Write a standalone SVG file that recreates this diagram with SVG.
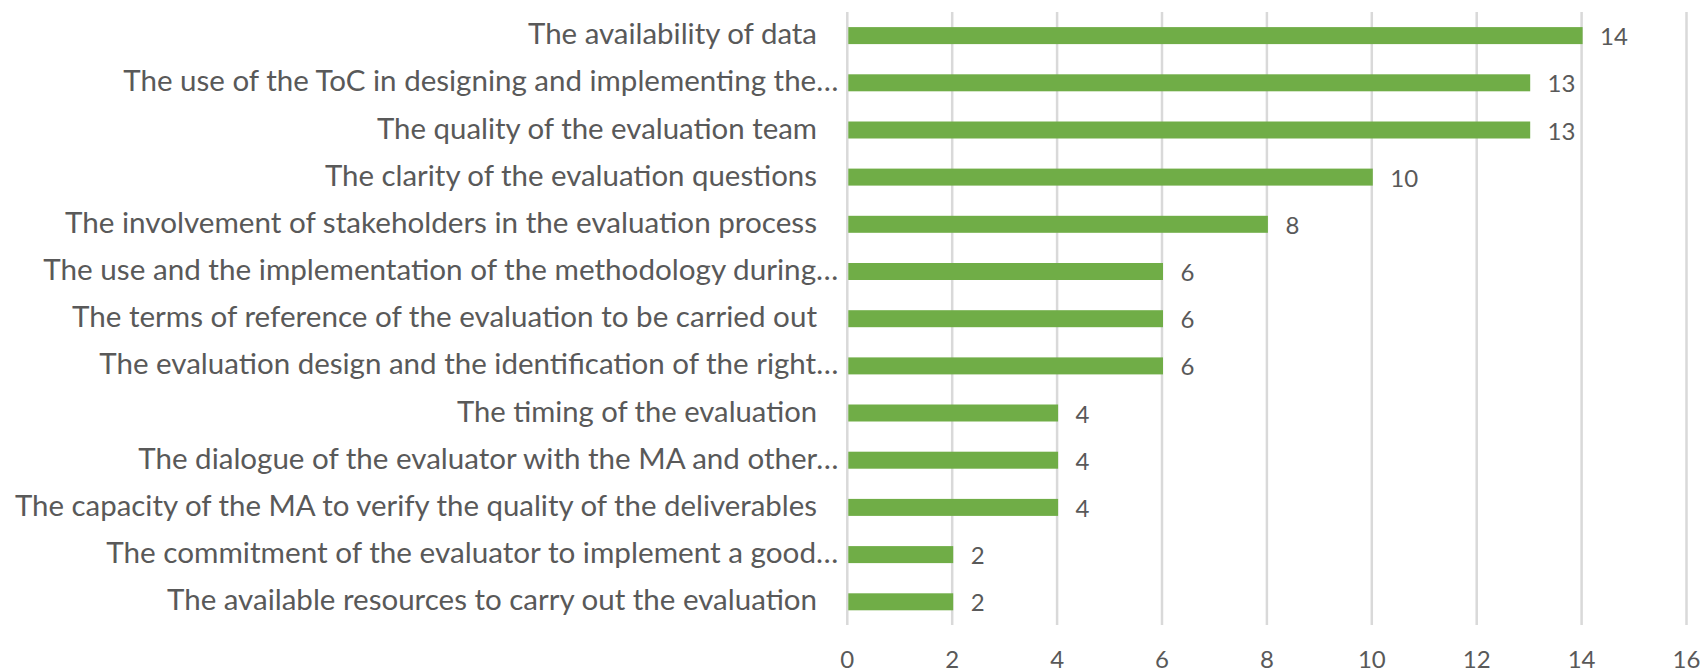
<svg xmlns="http://www.w3.org/2000/svg" width="1704" height="671" viewBox="0 0 1704 671">
<style>
.grid line{stroke:#D9D9D9;stroke-width:2.5}
.bar{fill:#70AD47}
.cat{font-family:Lato,"Open Sans","Liberation Sans",sans-serif;font-size:28px;fill:#595959;text-anchor:end}
.val{font-family:Lato,"Open Sans","Liberation Sans",sans-serif;font-size:24px;fill:#595959;text-anchor:start}
.ax{font-family:Lato,"Open Sans","Liberation Sans",sans-serif;font-size:24px;fill:#595959;text-anchor:middle}
</style>
<rect width="1704" height="671" fill="#ffffff"/>
<g id="gridlines" class="grid">
<line x1="847.3" y1="12" x2="847.3" y2="625"/>
<line x1="952.2" y1="12" x2="952.2" y2="625"/>
<line x1="1057.1" y1="12" x2="1057.1" y2="625"/>
<line x1="1162" y1="12" x2="1162" y2="625"/>
<line x1="1266.9" y1="12" x2="1266.9" y2="625"/>
<line x1="1371.8" y1="12" x2="1371.8" y2="625"/>
<line x1="1476.7" y1="12" x2="1476.7" y2="625"/>
<line x1="1581.6" y1="12" x2="1581.6" y2="625"/>
<line x1="1686.5" y1="12" x2="1686.5" y2="625"/>
</g>
<g id="axis-labels">
<text class="ax" x="847.3" y="668">0</text>
<text class="ax" x="952.2" y="668">2</text>
<text class="ax" x="1057.1" y="668">4</text>
<text class="ax" x="1162" y="668">6</text>
<text class="ax" x="1266.9" y="668">8</text>
<text class="ax" x="1371.8" y="668">10</text>
<text class="ax" x="1476.7" y="668">12</text>
<text class="ax" x="1581.6" y="668">14</text>
<text class="ax" x="1686.5" y="668">16</text>
</g>
<g id="row1">
<text class="cat" x="817" y="44.1" textLength="289" lengthAdjust="spacingAndGlyphs">The availability of data</text>
<rect class="bar" x="848.3" y="27.1" width="734.3" height="17"/>
<text class="val" x="1600" y="45.1">14</text>
</g>
<g id="row2">
<text class="cat" x="838.3" y="91.3" textLength="715" lengthAdjust="spacingAndGlyphs">The use of the ToC in designing and implementing the…</text>
<rect class="bar" x="848.3" y="74.3" width="681.9" height="17"/>
<text class="val" x="1547.5" y="92.3">13</text>
</g>
<g id="row3">
<text class="cat" x="817" y="138.5" textLength="440" lengthAdjust="spacingAndGlyphs">The quality of the evaluation team</text>
<rect class="bar" x="848.3" y="121.5" width="681.9" height="17"/>
<text class="val" x="1547.5" y="139.5">13</text>
</g>
<g id="row4">
<text class="cat" x="817" y="185.6" textLength="492" lengthAdjust="spacingAndGlyphs">The clarity of the evaluation questions</text>
<rect class="bar" x="848.3" y="168.6" width="524.5" height="17"/>
<text class="val" x="1390.3" y="186.6">10</text>
</g>
<g id="row5">
<text class="cat" x="817" y="232.8" textLength="752" lengthAdjust="spacingAndGlyphs">The involvement of stakeholders in the evaluation process</text>
<rect class="bar" x="848.3" y="215.8" width="419.6" height="17"/>
<text class="val" x="1285.4" y="233.8">8</text>
</g>
<g id="row6">
<text class="cat" x="838.3" y="280" textLength="795" lengthAdjust="spacingAndGlyphs">The use and the implementation of the methodology during…</text>
<rect class="bar" x="848.3" y="263" width="314.7" height="17"/>
<text class="val" x="1180.5" y="281">6</text>
</g>
<g id="row7">
<text class="cat" x="817" y="327.2" textLength="745" lengthAdjust="spacingAndGlyphs">The terms of reference of the evaluation to be carried out</text>
<rect class="bar" x="848.3" y="310.2" width="314.7" height="17"/>
<text class="val" x="1180.5" y="328.2">6</text>
</g>
<g id="row8">
<text class="cat" x="838.3" y="374.4" textLength="739" lengthAdjust="spacingAndGlyphs">The evaluation design and the identification of the right…</text>
<rect class="bar" x="848.3" y="357.4" width="314.7" height="17"/>
<text class="val" x="1180.5" y="375.4">6</text>
</g>
<g id="row9">
<text class="cat" x="817" y="421.5" textLength="360" lengthAdjust="spacingAndGlyphs">The timing of the evaluation</text>
<rect class="bar" x="848.3" y="404.5" width="209.8" height="17"/>
<text class="val" x="1075.6" y="422.5">4</text>
</g>
<g id="row10">
<text class="cat" x="838.3" y="468.7" textLength="700" lengthAdjust="spacingAndGlyphs">The dialogue of the evaluator with the MA and other…</text>
<rect class="bar" x="848.3" y="451.7" width="209.8" height="17"/>
<text class="val" x="1075.6" y="469.7">4</text>
</g>
<g id="row11">
<text class="cat" x="817" y="515.9" textLength="802" lengthAdjust="spacingAndGlyphs">The capacity of the MA to verify the quality of the deliverables</text>
<rect class="bar" x="848.3" y="498.9" width="209.8" height="17"/>
<text class="val" x="1075.6" y="516.9">4</text>
</g>
<g id="row12">
<text class="cat" x="838.3" y="563.1" textLength="732" lengthAdjust="spacingAndGlyphs">The commitment of the evaluator to implement a good…</text>
<rect class="bar" x="848.3" y="546.1" width="104.9" height="17"/>
<text class="val" x="970.7" y="564.1">2</text>
</g>
<g id="row13">
<text class="cat" x="817" y="610.3" textLength="650" lengthAdjust="spacingAndGlyphs">The available resources to carry out the evaluation</text>
<rect class="bar" x="848.3" y="593.3" width="104.9" height="17"/>
<text class="val" x="970.7" y="611.3">2</text>
</g>
</svg>
